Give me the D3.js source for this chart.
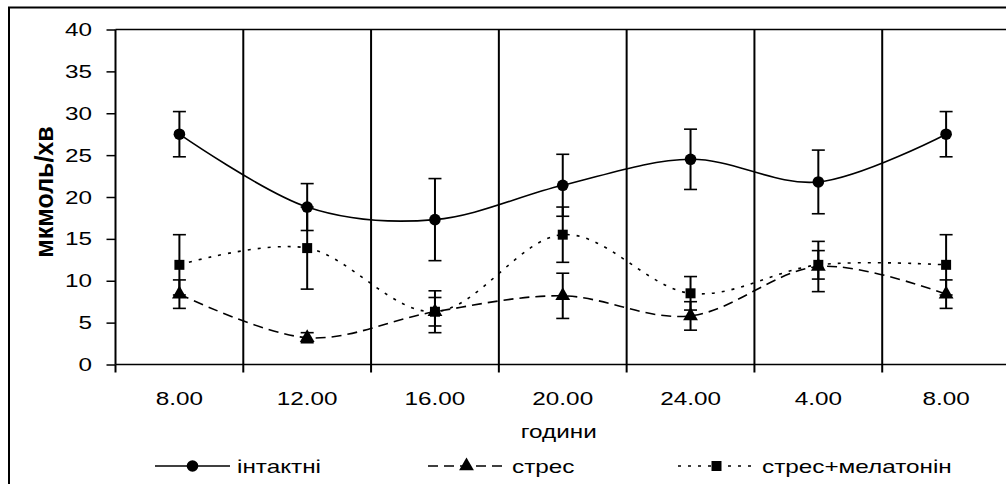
<!DOCTYPE html>
<html><head><meta charset="utf-8">
<script src="https://cdn.jsdelivr.net/npm/d3@7"></script>
<style>body{margin:0;background:#fff}svg{display:block}text{font-family:"Liberation Sans",Arial,sans-serif;fill:#000}</style>
</head><body><div id="chart"></div>
<script>
const categories = ["8.00","12.00","16.00","20.00","24.00","4.00","8.00"];
const yTicks = [0,5,10,15,20,25,30,35,40];
const intact = [27.5, 18.8, 17.3, 21.4, 24.5, 21.8, 27.5];
const intactErr = [2.7, 2.8, 4.9, 3.7, 3.6, 3.8, 2.7];
const stress = [8.4, 3.2, 6.3, 8.2, 5.8, 11.7, 8.4];
const stressErr = [1.7, 0.6, 1.7, 2.7, 1.7, 3.0, 1.7];
const stressMel = [11.9, 13.9, 6.3, 15.5, 8.5, 11.9, 11.9];
const stressMelErr = [3.6, 4.9, 2.5, 3.3, 2.0, 1.7, 3.6];
const seriesNames = ["інтактні","стрес","стрес+мелатонін"];
const xTitle = "години";
const yTitle = "мкмоль/хв";

const W = 1006, H = 484, SX = 1.35;
const plot = {l:115.5, r:1010, t:29.5, b:364.5};
const svg = d3.select("#chart").append("svg").attr("width",W).attr("height",H);

// outer border
svg.append("rect").attr("x",9).attr("y",7.5).attr("width",1010).attr("height",490)
  .attr("fill","none").attr("stroke","#000").attr("stroke-width",2);

const x = d3.scaleBand().domain(d3.range(categories.length)).range([plot.l, plot.r]).padding(0);
const y = d3.scaleLinear().domain([0,40]).range([plot.b, plot.t]);
const cx = i => x(i) + x.bandwidth()/2;

function stext(g, str, px, py, anchor, size, weight, rotate){
  const tr = `translate(${px},${py})` + (rotate ? ` rotate(${rotate})` : ` scale(${SX},1)`);
  const t = g.append("g").attr("transform", tr)
    .append("text").attr("text-anchor",anchor).style("font-size",size+"px").text(str);
  if (weight) t.style("font-weight",weight);
  return t;
}

// vertical gridlines at category boundaries
const bounds = d3.range(1, categories.length);
svg.append("g").selectAll("line").data(bounds).join("line")
  .attr("x1",d=>x(d)).attr("x2",d=>x(d)).attr("y1",plot.t).attr("y2",plot.b)
  .attr("stroke","#000").attr("stroke-width",2);
// top border line
svg.append("line").attr("x1",plot.l).attr("x2",plot.r+10).attr("y1",plot.t).attr("y2",plot.t).attr("stroke","#000").attr("stroke-width",1.5);

// y axis
const yAxis = d3.axisLeft(y).tickValues(yTicks).tickSize(9).tickPadding(0).tickFormat(()=>"");
const gy = svg.append("g").attr("transform",`translate(${plot.l},0)`).call(yAxis);
gy.select(".domain").attr("stroke","#000").attr("stroke-width",2).attr("d",`M0,${plot.t}V${plot.b}`);
gy.selectAll(".tick line").attr("stroke","#000").attr("stroke-width",1.5);
yTicks.forEach(v => stext(svg, String(v), 92, y(v)+6.5, "end", 18));

// x axis
const gx = svg.append("g").attr("transform",`translate(0,${plot.b})`);
gx.append("line").attr("x1",plot.l).attr("x2",plot.r).attr("stroke","#000").attr("stroke-width",1.5);
gx.selectAll(".tk").data(d3.range(0,categories.length+1)).join("line")
  .attr("x1",d=> d<categories.length ? x(d) : plot.r).attr("x2",d=> d<categories.length ? x(d) : plot.r)
  .attr("y1",0).attr("y2",8).attr("stroke","#000").attr("stroke-width",2);
categories.forEach((c,i)=> stext(svg, c, cx(i), 405, "middle", 18));
stext(svg, xTitle, (plot.l+plot.r)/2 - 4, 438, "middle", 18);
stext(svg, yTitle, 53, 192, "middle", 25, "bold", -90);

// series
const curve = d3.curveCardinal.tension(0);
const series = [
  {vals:intact, err:intactErr, dash:null, marker:"circle"},
  {vals:stress, err:stressErr, dash:"10,6", marker:"triangle"},
  {vals:stressMel, err:stressMelErr, dash:"3,7", marker:"square"}
];
const triSym = d3.symbol().type(d3.symbolTriangle).size(95);
const sqSym = d3.symbol().type(d3.symbolSquare).size(100);
function drawMarker(g, type, px, py){
  if (type==="circle") g.append("circle").attr("cx",px).attr("cy",py).attr("r",5.8).attr("fill","#000");
  else if (type==="triangle") g.append("path").attr("d",triSym()).attr("transform",`translate(${px},${py})`).attr("fill","#000");
  else g.append("path").attr("d",sqSym()).attr("transform",`translate(${px},${py})`).attr("fill","#000");
}

series.forEach(s=>{
  const line = d3.line().x((d,i)=>cx(i)).y(d=>y(d)).curve(curve);
  svg.append("path").datum(s.vals).attr("d",line).attr("fill","none").attr("stroke","#000")
    .attr("stroke-width",1.6).attr("stroke-dasharray",s.dash);
});
series.forEach(s=>{
  const g = svg.append("g");
  s.vals.forEach((v,i)=>{
    const px = cx(i), hi = y(v+s.err[i]), lo = y(v-s.err[i]);
    g.append("line").attr("x1",px).attr("x2",px).attr("y1",hi).attr("y2",lo).attr("stroke","#000").attr("stroke-width",2);
    [hi,lo].forEach(yy=> g.append("line").attr("x1",px-6.5).attr("x2",px+6.5).attr("y1",yy).attr("y2",yy).attr("stroke","#000").attr("stroke-width",1.6));
  });
});
series.forEach(s=>{
  const g = svg.append("g");
  s.vals.forEach((v,i)=> drawMarker(g, s.marker, cx(i), y(v)));
});

// legend
const legY = 466;
const legItems = [
  {x0:155, x1:230, tx:237},
  {x0:428, x1:505, tx:512},
  {x0:678, x1:755, tx:762}
];
legItems.forEach((li,k)=>{
  const s = series[k];
  svg.append("line").attr("x1",li.x0).attr("x2",li.x1).attr("y1",legY).attr("y2",legY)
    .attr("stroke","#000").attr("stroke-width",1.6).attr("stroke-dasharray",s.dash);
  drawMarker(svg, s.marker, (li.x0+li.x1)/2, legY);
  stext(svg, seriesNames[k], li.tx, legY+6.5, "start", 18);
});
</script></body></html>
